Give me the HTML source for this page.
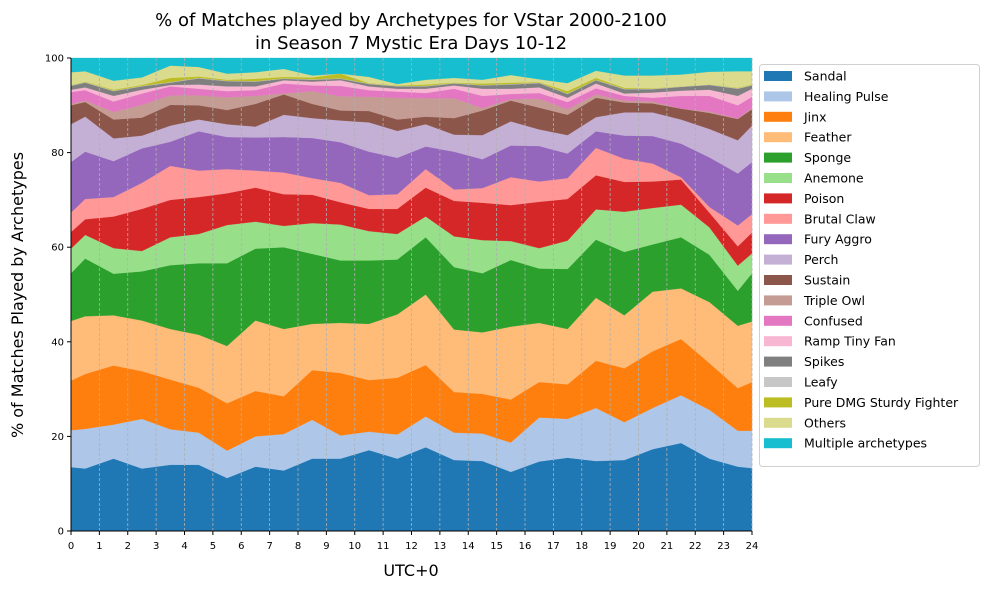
<!DOCTYPE html>
<html><head><meta charset="utf-8"><style>
body{margin:0;background:#fff}
svg text{font-family:"DejaVu Sans","Liberation Sans",sans-serif}
</style></head><body>
<svg id="chart" width="989" height="590" xmlns="http://www.w3.org/2000/svg">
<text x="411" y="26" text-anchor="middle" font-size="18">% of Matches played by Archetypes for VStar 2000-2100</text>
<text x="411" y="49" text-anchor="middle" font-size="18">in Season 7 Mystic Era Days 10-12</text>
<text transform="translate(23,295) rotate(-90)" text-anchor="middle" font-size="16">% of Matches Played by Archetypes</text>
<text x="411" y="576" text-anchor="middle" font-size="16">UTC+0</text>
<g id="areas"></g><g id="grid"></g><g id="axes"></g><g id="legend"></g>
</svg>
<script>
const hours=[0,0.5,1.5,2.5,3.5,4.5,5.5,6.5,7.5,8.5,9.5,10.5,11.5,12.5,13.5,14.5,15.5,16.5,17.5,18.5,19.5,20.5,21.5,22.5,23.5,24];
const seriesNames=["Sandal","Healing Pulse","Jinx","Feather","Sponge","Anemone","Poison","Brutal Claw","Fury Aggro","Perch","Sustain","Triple Owl","Confused","Ramp Tiny Fan","Spikes","Leafy","Pure DMG Sturdy Fighter","Others","Multiple archetypes"];
const colors=["#1f77b4","#aec7e8","#ff7f0e","#ffbb78","#2ca02c","#98df8a","#d62728","#ff9896","#9467bd","#c5b0d5","#8c564b","#c49c94","#e377c2","#f7b6d2","#7f7f7f","#c7c7c7","#bcbd22","#dbdb8d","#17becf"];
// cumulative (stacked) top of each series, in %
const sandalTop=[13.5,13.2,15.3,13.2,14,14,11.2,13.6,12.8,15.3,15.3,17.1,15.3,17.7,15,14.8,12.5,14.7,15.5,14.8,15,17.3,18.6,15.3,13.6,13.3];
const healingTop=[21.3,21.6,22.5,23.7,21.5,20.8,17,20,20.5,23.5,20.2,21,20.4,24.2,20.8,20.6,18.7,24,23.7,26,23,26,28.7,25.6,21.2,21.2];
const jinxTop=[31.8,33.2,35,33.8,32,30.3,27,29.6,28.5,34,33.4,31.9,32.4,35.1,29.4,29,27.8,31.5,31,36,34.4,38,40.6,35.5,30.2,31.5];
const featherTop=[44.4,45.4,45.6,44.5,42.7,41.5,39.1,44.5,42.7,43.8,44,43.8,45.8,50,42.6,42,43.2,44,42.7,49.3,45.6,50.6,51.3,48.4,43.4,44.3];
const spongeTop=[54.5,57.6,54.4,54.9,56.2,56.6,56.6,59.7,60,58.6,57.2,57.2,57.4,62.1,55.8,54.5,57.3,55.5,55.4,61.6,59,60.6,62.1,58.4,50.8,54.5];
const anemoneTop=[59.7,62.6,59.8,59.2,62.1,62.8,64.7,65.4,64.5,65.1,64.8,63.4,62.8,66.5,62.3,61.5,61.3,59.8,61.4,68,67.5,68.3,69,64.2,56.1,58.7];
const poisonTop=[63.2,65.9,66.5,68.1,70,70.6,71.4,72.6,71.2,71.1,69.5,68.1,68.1,72.6,69.8,69.4,68.9,69.6,70.2,75.2,73.8,73.9,74.3,67.3,60.2,63.1];
const brutalTop=[67.3,70.2,70.6,73.6,77.2,76.2,76.5,76.2,75.8,74.6,73.6,71,71.2,76.5,72.2,72.5,74.8,73.9,74.6,81,78.7,77.7,74.8,68.5,64.6,67];
const furyTop=[78,80.2,78.2,80.9,82.3,84.5,83.3,83.2,83.3,83.1,82.2,80.2,78.9,81.3,80.2,78.6,81.5,81.4,79.8,84.5,83.6,83.5,81.9,79,75.6,78];
const perchTop=[86,87.6,83,83.6,85.7,87,86,85.5,88,87.3,86.8,86.4,84.6,86,83.8,83.7,86.6,84.9,83.7,87.5,88.5,88.5,87,85,82.6,85.7];
const sustainTop=[90,90.7,87,87.4,90.1,90,89,90.3,92.3,90.3,88.9,88.8,87,87.6,87.3,88.9,91,89.5,88,91.6,90.6,90.4,89.3,88.4,87.1,89.2];
const owlTop=[90.3,91,88.6,90.1,92.1,92.1,91.7,92,92.5,93,91.9,91.8,91.6,91.5,91.5,89.4,91.3,91.4,89.2,92.3,91,90.8,89.3,88.7,87.2,89.5];
const confusedTop=[92.8,93.2,90.8,92.5,94,93.5,93,93.2,94.6,94.2,94.1,93.2,92.9,92.6,93.5,92,92.4,92.6,90.7,93.6,92,91.6,92,92,90,91.8];
const rampTop=[93.3,93.8,92,93.3,94.3,94.4,94,94,95.3,95,95.3,94,93.5,93.5,94.2,93.5,93.5,93.8,91.6,94.6,92.5,92.7,93.1,93.3,92,93.5];
const spikesTop=[94.1,94.8,93,94,94.8,95.7,95.1,95,95.6,95.4,95.6,94.5,94,94,94.6,94.2,94.4,94.7,92.4,95.3,93.4,93.4,93.9,94.3,93.5,94.2];
const leafyTop=[94.2,94.9,93.1,94.1,94.9,95.8,95.2,95.1,95.7,95.5,95.7,94.6,94.1,94.1,94.7,94.3,94.5,94.8,92.5,95.4,93.5,93.5,94,94.4,93.6,94.3];
const pureTop=[94.3,95,93.3,94.3,95.8,96.1,95.4,95.6,96,95.9,96.7,94.7,94.2,94.4,94.8,94.6,94.8,94.9,93,95.8,93.7,93.6,94,94.4,93.7,94.4];
const othersTop=[97,97.2,95.2,95.9,98.4,98.1,96.7,97,97.7,96.3,95.9,96,94.5,95.4,95.8,95.4,96.4,95.5,94.7,97.3,96.3,96.3,96.5,97.1,97.2,97.2];
const multipleTop=[100,100,100,100,100,100,100,100,100,100,100,100,100,100,100,100,100,100,100,100,100,100,100,100,100,100];
const xTicks=[0,1,2,3,4,5,6,7,8,9,10,11,12,13,14,15,16,17,18,19,20,21,22,23,24];
const yTicks=[0,20,40,60,80,100];
const tops=[sandalTop,healingTop,jinxTop,featherTop,spongeTop,anemoneTop,poisonTop,brutalTop,furyTop,perchTop,sustainTop,owlTop,confusedTop,rampTop,spikesTop,leafyTop,pureTop,othersTop,multipleTop];

const NS="http://www.w3.org/2000/svg";
const X0=71,X1=752,Y0=531,Y1=58;
const xs=h=>X0+(h/24)*(X1-X0);
const ys=v=>Y0-(v/100)*(Y0-Y1);
function mk(tag,attrs,parent){const e=document.createElementNS(NS,tag);for(const k in attrs)e.setAttribute(k,attrs[k]);parent.appendChild(e);return e;}
const gA=document.getElementById('areas'),gG=document.getElementById('grid'),gX=document.getElementById('axes'),gL=document.getElementById('legend');
let prev=hours.map(()=>0);
tops.forEach((t,i)=>{
  const top=t.map((v,j)=>Math.max(v,prev[j]));
  let d='M'+hours.map((h,j)=>xs(h).toFixed(2)+','+ys(top[j]).toFixed(2)).join('L');
  for(let j=hours.length-1;j>=0;j--)d+='L'+xs(hours[j]).toFixed(2)+','+ys(prev[j]).toFixed(2);
  const p=mk('path',{d:d+'Z',fill:colors[i],stroke:colors[i],'stroke-width':0.3},gA);
  
  
  prev=top;
});
xTicks.forEach(t=>{
  const g=mk('line',{x1:xs(t),x2:xs(t),y1:Y1,y2:Y0,stroke:'#b0b0b0','stroke-width':0.8,'stroke-dasharray':'3,2'},gG);
  
  
  const tk=mk('line',{x1:xs(t),x2:xs(t),y1:Y0,y2:Y0+4,stroke:'#000'},gX);
  
  
  const tx=mk('text',{x:xs(t),y:Y0+18,'text-anchor':'middle','font-size':10},gX);
  tx.textContent=t;
  
  
});
yTicks.forEach(t=>{
  const tk=mk('line',{x1:X0-4,x2:X0,y1:ys(t),y2:ys(t),stroke:'#000'},gX);
  
  
  const tx=mk('text',{x:X0-7,y:ys(t)+3.5,'text-anchor':'end','font-size':10},gX);
  tx.textContent=t;
  
  
});
const ax=mk('path',{d:`M${X0},${Y1}V${Y0}H${X1}`,fill:'none',stroke:'#000','stroke-width':1},gX);


const box=mk('rect',{x:759.5,y:64.5,width:220,height:402,rx:3,fill:'#fff','fill-opacity':0.8,stroke:'#d0d0d0'},gL);


seriesNames.forEach((n,i)=>{
  const y=76+i*20.4;
  const r=mk('rect',{x:764,y:y-5,width:28,height:10,fill:colors[i]},gL);
  
  
  const t=mk('text',{x:804,y:y+4.5,'font-size':12.5},gL);
  t.textContent=n;
  
  
});
</script>
</body></html>
